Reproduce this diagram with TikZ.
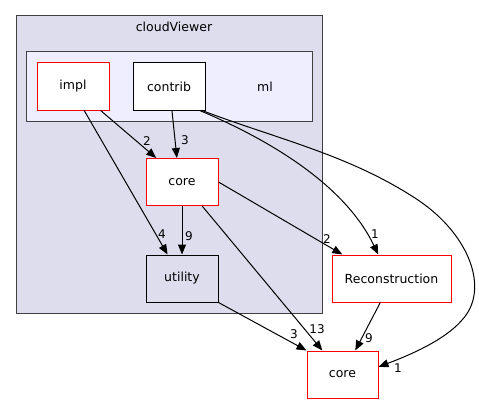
\documentclass[tikz,border=0pt]{standalone}
\usepackage{fontspec}
\setmainfont{DejaVu Sans}
\usetikzlibrary{calc,arrows.meta}
\definecolor{clusterbg}{HTML}{DDDDEE}
\definecolor{innerbg}{HTML}{EEEEFF}
\definecolor{clusterline}{HTML}{404040}
\tikzset{
  dirbox/.style={draw, line width=1pt, fill=white, minimum width=72pt, minimum height=47pt,
    font=\fontsize{12.5}{15}\selectfont, inner sep=0pt},
  reddir/.style={dirbox, draw=red},
  dep/.style={line width=1pt, -{Triangle[length=10pt,width=8pt]}},
  cnt/.style={font=\fontsize{12}{14}\selectfont, inner sep=0pt}
}
\begin{document}
\begin{tikzpicture}[x=1pt,y=-1pt,color=black]
\useasboundingbox (0,0) rectangle (479,404);

% clusters
\filldraw[fill=clusterbg, draw=clusterline, line width=1pt] (16,16) rectangle (322,313);
\node[font=\fontsize{12.5}{15}\selectfont] (cloudviewer) at (174,27) {cloudViewer};
\filldraw[fill=innerbg, draw=clusterline, line width=1pt] (26,52) rectangle (312,121);
\node[font=\fontsize{12.5}{15}\selectfont] (ml) at (265,86.5) {ml};

% directories
\node[reddir] (impl) at (73,86.5) {impl};
\node[dirbox] (contrib) at (169,86.5) {contrib};
\node[reddir] (core) at (182,182) {core};
\node[dirbox, fill=clusterbg] (utility) at (182,278.5) {utility};
\node[reddir, minimum width=119pt] (recon) at (391.5,278.5) {Reconstruction};
\node[reddir, minimum width=71pt] (core2) at (342.5,374.5) {core};

% dependencies
\draw[dep] (impl.-41) -- (core.137);
\draw[dep] (impl.-65) -- (utility.121.5);
\draw[dep] (contrib.-83) -- (core.102);
\draw[dep] (contrib.-38) .. controls (270,140) and (345,185) .. (recon.119);
\draw[dep] (contrib.-36) .. controls (280,140) and (350,155) .. (418,200)
      .. controls (470,235) and (490,290) .. (462,320)
      .. controls (445,340) and (410,355) .. (core2.12);
\draw[dep] (core.south) -- (utility.north);
\draw[dep] (core.-50) -- (core2.130);
\draw[dep] (core.east) -- (recon.154);
\draw[dep] (utility.south east) -- (core2.north west);
\draw[dep] (recon.-115) -- (core2.62);

% counts
\node[cnt] (n1) at (147,141) {2};
\node[cnt] (n2) at (185,140) {3};
\node[cnt] (n3) at (162,234) {4};
\node[cnt] (n4) at (189,236) {9};
\node[cnt] (n5) at (327,239) {2};
\node[cnt] (n6) at (375,234) {1};
\node[cnt] (n7) at (294,334) {3};
\node[cnt] (n8) at (317,329) {13};
\node[cnt] (n9) at (369,338) {9};
\node[cnt] (n10) at (398,368) {1};

\end{tikzpicture}
\end{document}
